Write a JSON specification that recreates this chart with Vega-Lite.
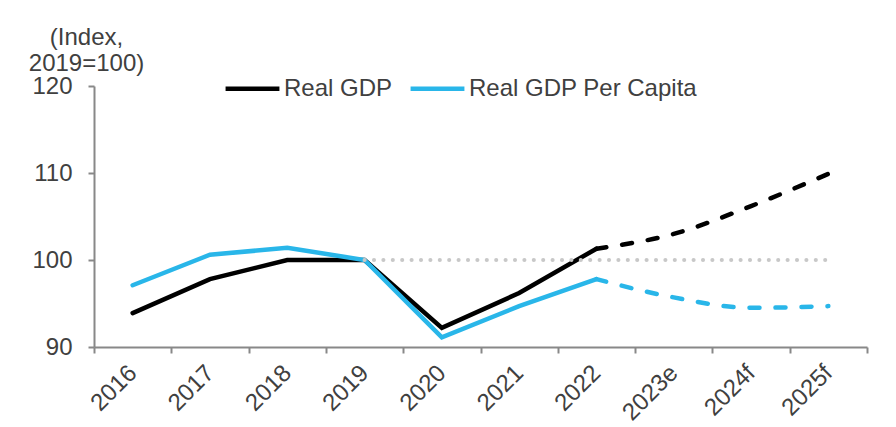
{
  "$schema": "https://vega.github.io/schema/vega-lite/v6.json",
  "width": 773,
  "height": 261,
  "autosize": {"type": "none"},
  "padding": {"left": 94, "top": 86, "right": 29, "bottom": 80},
  "background": "white",
  "config": {
    "view": {"stroke": null},
    "font": "Liberation Sans",
    "axis": {
      "labelFont": "Liberation Sans",
      "labelFontSize": 24,
      "labelColor": "#404040",
      "domainColor": "#888888",
      "domainWidth": 2,
      "tickColor": "#888888",
      "tickWidth": 2,
      "tickSize": 6,
      "grid": false
    },
    "legend": {
      "labelFont": "Liberation Sans",
      "labelFontSize": 24,
      "labelColor": "#404040",
      "labelLimit": 0
    }
  },
  "datasets": {
    "main": [
      {"year": "2016", "series": "Real GDP", "value": 93.9, "part": "actual"},
      {"year": "2017", "series": "Real GDP", "value": 97.8, "part": "actual"},
      {"year": "2018", "series": "Real GDP", "value": 100.0, "part": "actual"},
      {"year": "2019", "series": "Real GDP", "value": 100.0, "part": "actual"},
      {"year": "2020", "series": "Real GDP", "value": 92.2, "part": "actual"},
      {"year": "2021", "series": "Real GDP", "value": 96.2, "part": "actual"},
      {"year": "2022", "series": "Real GDP", "value": 101.3, "part": "actual"},
      {"year": "2022", "series": "Real GDP", "value": 101.3, "part": "forecast"},
      {"year": "2023e", "series": "Real GDP", "value": 103.0, "part": "forecast"},
      {"year": "2024f", "series": "Real GDP", "value": 106.2, "part": "forecast"},
      {"year": "2025f", "series": "Real GDP", "value": 109.9, "part": "forecast"},
      {"year": "2016", "series": "Real GDP Per Capita", "value": 97.1, "part": "actual"},
      {"year": "2017", "series": "Real GDP Per Capita", "value": 100.6, "part": "actual"},
      {"year": "2018", "series": "Real GDP Per Capita", "value": 101.4, "part": "actual"},
      {"year": "2019", "series": "Real GDP Per Capita", "value": 100.0, "part": "actual"},
      {"year": "2020", "series": "Real GDP Per Capita", "value": 91.1, "part": "actual"},
      {"year": "2021", "series": "Real GDP Per Capita", "value": 94.7, "part": "actual"},
      {"year": "2022", "series": "Real GDP Per Capita", "value": 97.8, "part": "actual"},
      {"year": "2022", "series": "Real GDP Per Capita", "value": 97.8, "part": "forecast"},
      {"year": "2023e", "series": "Real GDP Per Capita", "value": 95.7, "part": "forecast"},
      {"year": "2024f", "series": "Real GDP Per Capita", "value": 94.5, "part": "forecast"},
      {"year": "2025f", "series": "Real GDP Per Capita", "value": 94.7, "part": "forecast"}
    ],
    "ref": [
      {"year": "2019", "value": 100},
      {"year": "2020", "value": 100},
      {"year": "2021", "value": 100},
      {"year": "2022", "value": 100},
      {"year": "2023e", "value": 100},
      {"year": "2024f", "value": 100},
      {"year": "2025f", "value": 100}
    ]
  },
  "encoding": {
    "x": {
      "field": "year",
      "type": "ordinal",
      "sort": ["2016","2017","2018","2019","2020","2021","2022","2023e","2024f","2025f"],
      "scale": {"type": "band", "paddingInner": 0, "paddingOuter": 0, "domain": ["2016","2017","2018","2019","2020","2021","2022","2023e","2024f","2025f"]},
      "axis": {
        "title": null,
        "labelAngle": -45,
        "labelAlign": "right",
        "labelBaseline": "middle",
        "labelPadding": 16,
        "tickBand": "extent"
      }
    },
    "y": {
      "field": "value",
      "type": "quantitative",
      "scale": {"domain": [90, 120], "nice": false, "zero": false},
      "axis": {
        "values": [90, 100, 110, 120],
        "labelPadding": 16,
        "title": ["(Index,", "2019=100)"],
        "titleAngle": 0,
        "titleAlign": "center",
        "titleBaseline": "top",
        "titleX": -8,
        "titleY": -61,
        "titleLineHeight": 26,
        "titleFont": "Liberation Sans",
        "titleFontSize": 24,
        "titleFontWeight": "normal",
        "titleColor": "#404040"
      }
    }
  },
  "layer": [
    {
      "data": {"name": "main"},
      "transform": [{"filter": "datum.part === 'actual'"}],
      "mark": {"type": "line", "strokeWidth": 4.5, "strokeCap": "round", "strokeJoin": "miter"},
      "encoding": {
        "color": {
          "field": "series",
          "type": "nominal",
          "scale": {"domain": ["Real GDP", "Real GDP Per Capita"], "range": ["#000000", "#29B6E9"]},
          "legend": {
            "title": null,
            "orient": "none",
            "direction": "horizontal",
            "legendX": 129,
            "legendY": -27,
            "symbolType": "stroke",
            "symbolSize": 2900,
            "symbolStrokeWidth": 4.5,
            "labelOffset": 2,
            "columnPadding": 8
          }
        }
      }
    },
    {
      "data": {"name": "main"},
      "transform": [{"filter": "datum.part === 'forecast'"}],
      "mark": {"type": "line", "strokeWidth": 4.5, "strokeCap": "round", "strokeDash": [10, 16], "interpolate": "monotone"},
      "encoding": {
        "color": {"field": "series", "type": "nominal"}
      }
    },
    {
      "data": {"name": "ref"},
      "mark": {"type": "line", "color": "#C8C8C8", "strokeWidth": 4, "strokeCap": "round", "strokeDash": [0.1, 9.3]},
      "encoding": {}
    }
  ]
}
